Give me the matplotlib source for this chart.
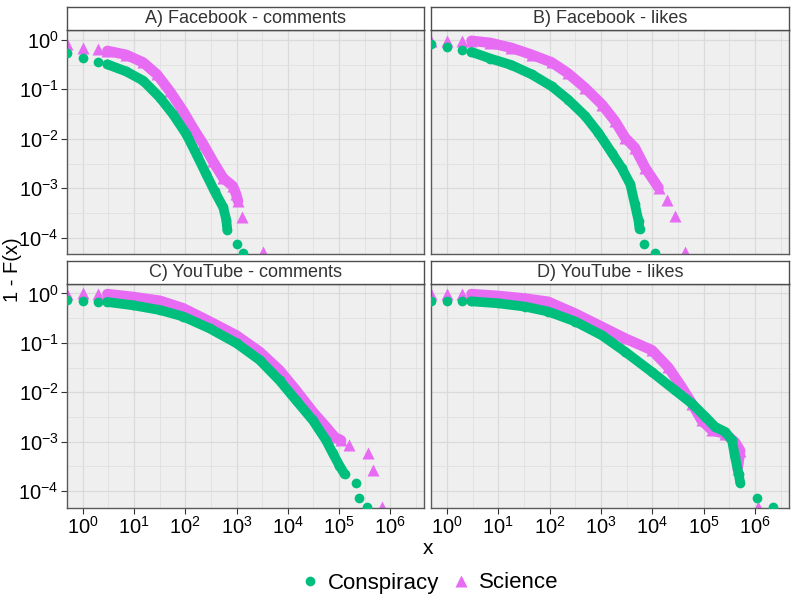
import matplotlib
matplotlib.use('Agg')
import matplotlib.pyplot as plt
from matplotlib.lines import Line2D
from matplotlib.ticker import FixedLocator, NullFormatter, FixedFormatter

plt.rcParams['font.family'] = ['Liberation Sans', 'DejaVu Sans']
plt.rcParams['mathtext.fontset'] = 'custom'
plt.rcParams['mathtext.rm'] = 'Liberation Sans'
plt.rcParams['mathtext.it'] = 'Liberation Sans:italic'

GREEN = '#00BF7D'
PINK = '#E76BF3'

titles = ['A) Facebook - comments', 'B) Facebook - likes',
          'C) YouTube - comments', 'D) YouTube - likes']
groups = ['Conspiracy', 'Science']

# A) Facebook - comments
fbc_consp_x = [0.5, 1, 2, 3, 7, 15, 32, 58, 105, 166, 257, 372, 550, 630, 660, 1000, 1320]
fbc_consp_y = [0.54, 0.43, 0.36, 0.32, 0.23, 0.15, 0.068, 0.031, 0.0123, 0.0048, 0.0019,
               0.00087, 0.00041, 0.00023, 0.000145, 7.4e-5, 4.8e-5]
fbc_sci_x = [0.5, 1, 2, 3, 7, 15, 28, 50, 91, 141, 224, 347, 550, 850, 980, 1070, 1290, 3240]
fbc_sci_y = [0.81, 0.68, 0.65, 0.60, 0.50, 0.35, 0.20, 0.091, 0.036, 0.0166, 0.0078, 0.0035,
             0.0016, 0.0011, 0.00076, 0.00055, 0.00026, 5.2e-5]

# B) Facebook - likes
fbl_consp_x = [0.5, 1, 2, 3, 7, 18, 45, 110, 229, 490, 890, 1620, 2510, 3720, 4570, 5370,
               5620, 6900, 11500]
fbl_consp_y = [0.83, 0.71, 0.63, 0.57, 0.42, 0.31, 0.20, 0.115, 0.062, 0.029, 0.0132, 0.0052,
               0.0026, 0.0012, 0.00047, 0.00022, 0.000148, 7.4e-5, 4.8e-5]
fbl_sci_x = [0.5, 1, 2, 3, 7, 18, 45, 110, 229, 490, 1050, 1860, 2950, 4570, 7240, 13200,
             19000, 27500, 43600]
fbl_sci_y = [0.97, 0.97, 0.96, 0.96, 0.87, 0.69, 0.50, 0.35, 0.21, 0.107, 0.049, 0.023,
             0.0105, 0.0066, 0.0026, 0.00102, 0.00059, 0.00027, 5.2e-5]

# C) YouTube - comments
ytc_consp_x = [0.5, 1, 2, 3, 9.5, 32, 91, 300, 1000, 2820, 6900, 14500, 31000, 56000, 76000,
               102000, 129000, 219000, 251000, 347000]
ytc_consp_y = [0.72, 0.71, 0.68, 0.67, 0.575, 0.46, 0.34, 0.195, 0.098, 0.045, 0.0174, 0.0069,
               0.0027, 0.00107, 0.00058, 0.00033, 0.00022, 0.000148, 7.4e-5, 4.8e-5]
ytc_sci_x = [0.5, 1, 2, 3, 9.5, 32, 91, 300, 1000, 2820, 6900, 14500, 31000, 56000, 83000,
             110000, 158000, 363000, 457000, 692000]
ytc_sci_y = [0.98, 1.0, 0.98, 0.97, 0.85, 0.71, 0.50, 0.27, 0.141, 0.066, 0.028, 0.011, 0.004,
             0.002, 0.00123, 0.00107, 0.00085, 0.00058, 0.00027, 4.9e-5]

# D) YouTube - likes
ytl_consp_x = [0.5, 1, 2, 3, 10, 33, 93, 316, 1050, 2950, 9800, 27500, 59000, 107000, 166000,
               263000, 355000, 407000, 479000, 513000, 1100000, 2190000]
ytl_consp_y = [0.71, 0.71, 0.71, 0.69, 0.63, 0.54, 0.43, 0.27, 0.141, 0.066, 0.0257, 0.011,
               0.0059, 0.0032, 0.002, 0.00158, 0.00107, 0.00049, 0.00022, 0.000148, 7.4e-5, 4.8e-5]
ytl_sci_x = [0.5, 1, 2, 3, 10, 33, 93, 316, 1050, 2950, 9800, 20400, 37000, 59000, 91000,
             145000, 263000, 407000, 513000, 457000, 1150000]
ytl_sci_y = [0.97, 0.97, 0.97, 0.97, 0.89, 0.79, 0.68, 0.39, 0.21, 0.123, 0.071, 0.032, 0.0129,
             0.0059, 0.0027, 0.0017, 0.00145, 0.00098, 0.00066, 0.00028, 4.8e-5]

# isolated points at the end of each curve (consp, sci) per panel
tails = [(2, 2), (2, 3), (3, 4), (2, 1)]

panels = [
    (fbc_consp_x, fbc_consp_y, fbc_sci_x, fbc_sci_y),
    (fbl_consp_x, fbl_consp_y, fbl_sci_x, fbl_sci_y),
    (ytc_consp_x, ytc_consp_y, ytc_sci_x, ytc_sci_y),
    (ytl_consp_x, ytl_consp_y, ytl_sci_x, ytl_sci_y),
]

W, H = 796, 603
fig = plt.figure(figsize=(W / 100, H / 100), dpi=100)

# panel boxes in pixels: left, top, width, height
boxes = [(67, 30, 357, 224), (431, 30, 358, 224),
         (67, 283.5, 357, 224), (431, 283.5, 358, 224)]
strip_h = 23

xmaj = [10.0 ** k for k in range(0, 7)]
xmin = [10.0 ** (k + 0.5) for k in range(0, 7)]
ymaj = [10.0 ** k for k in range(-4, 1)]
ymin = [10.0 ** (k + 0.5) for k in range(-5, 0)]

for i, (l, t, w, h) in enumerate(boxes):
    ax = fig.add_axes([l / W, 1 - (t + h) / H, w / W, h / H])
    ax.set_facecolor('#EFEFEF')
    ax.set_xscale('log')
    ax.set_yscale('log')
    ax.set_xlim(10 ** -0.31, 10 ** 6.66)
    ax.set_ylim(10 ** -4.33, 10 ** 0.2)

    ax.xaxis.set_major_locator(FixedLocator(xmaj))
    ax.xaxis.set_minor_locator(FixedLocator(xmin))
    ax.yaxis.set_major_locator(FixedLocator(ymaj))
    ax.yaxis.set_minor_locator(FixedLocator(ymin))
    ax.xaxis.set_minor_formatter(NullFormatter())
    ax.yaxis.set_minor_formatter(NullFormatter())
    ax.xaxis.set_major_formatter(FixedFormatter(
        [r'$\mathregular{10^{%d}}$' % k for k in range(0, 7)]))
    ax.yaxis.set_major_formatter(FixedFormatter(
        [r'$\mathregular{10^{%d}}$' % k for k in range(-4, 1)]))

    ax.grid(True, which='major', color='#DADADA', lw=0.9)
    ax.grid(True, which='minor', color='#E2E2E2', lw=0.7)
    ax.set_axisbelow(True)
    for s in ax.spines.values():
        s.set_color('#5A5A5A')
        s.set_linewidth(1.0)

    ax.tick_params(which='minor', length=0)
    ax.tick_params(which='major', length=4, width=0.8, color='#333333',
                   labelsize=14.5, labelcolor='black', pad=2)
    if i % 2 == 1:
        ax.tick_params(axis='y', which='major', length=0, labelleft=False)
    if i < 2:
        ax.tick_params(axis='x', which='major', length=0, labelbottom=False)

    cx, cy, sx, sy = panels[i]
    ct, st = tails[i]
    # science first, conspiracy drawn on top
    ax.plot(sx[3:len(sx) - st], sy[3:len(sy) - st], color=PINK, lw=7.5,
            solid_capstyle='round', solid_joinstyle='round', zorder=2)
    ax.plot(sx, sy, ls='none', marker='^', ms=8.5, color=PINK, mec='none', zorder=2)
    ax.plot(cx[3:len(cx) - ct], cy[3:len(cy) - ct], color=GREEN, lw=7,
            solid_capstyle='round', solid_joinstyle='round', zorder=3)
    ax.plot(cx, cy, ls='none', marker='o', ms=7, color=GREEN, mec='none', zorder=3)

    # strip
    sax = fig.add_axes([l / W, 1 - t / H, w / W, strip_h / H])
    sax.set_xticks([])
    sax.set_yticks([])
    sax.set_facecolor('white')
    for s in sax.spines.values():
        s.set_color('#4D4D4D')
        s.set_linewidth(1.0)
    sax.text(0.5, 0.48, titles[i], ha='center', va='center', fontsize=13,
             color='#333333', transform=sax.transAxes)

fig.text(13 / W, 1 - 270 / H, '1 - F(x)', rotation=90, ha='center', va='center',
         fontsize=14.5)
fig.text(428 / W, 1 - 548 / H, 'x', ha='center', va='center', fontsize=15)

handles = [Line2D([], [], ls='none', marker='o', ms=7, color=GREEN, mec='none'),
           Line2D([], [], ls='none', marker='^', ms=8, color=PINK, mec='none')]
fig.legend(handles, groups, loc='center', bbox_to_anchor=(430 / W, 1 - 583 / H),
           ncol=2, frameon=False, fontsize=16, handlelength=0.8, handletextpad=0.4,
           columnspacing=0.6)

fig.savefig('out.png', dpi=100)
